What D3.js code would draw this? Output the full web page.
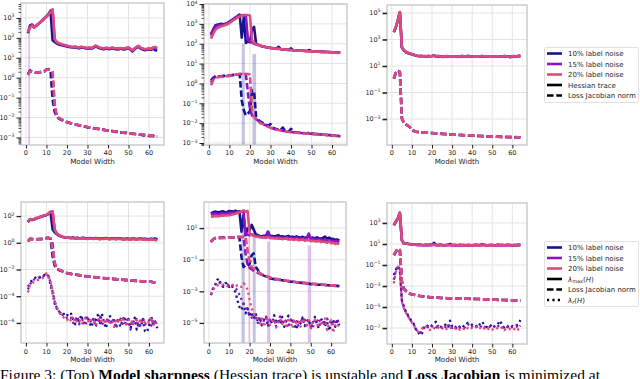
<!DOCTYPE html>
<html><head><meta charset="utf-8">
<script src="https://cdn.jsdelivr.net/npm/d3@7"></script>
<style>body{margin:0;background:#fff}svg{display:block}</style>
</head><body><svg id="c" width="640" height="379"></svg>
<script>
// ---------- DATA ----------
const widths = [1,2,3,4,5,6,7,8,9,10,11,12,13,14,15,16,17,18,19,20,21,22,23,24,25,26,27,28,29,30,31,32,33,34,35,36,37,38,39,40,41,42,43,44,45,46,47,48,49,50,51,52,53,54,55,56,57,58,59,60,61,62,63,64];
const xTicks = [0,10,20,30,40,50,60];
const noiseLabels = ['10% label noise','15% label noise','20% label noise'];
const topStyleLabels = ['Hessian trace','Loss Jacobian norm'];
const xLabel = 'Model Width';

// top-left
const tlTicks = [1e-3,1e-2,1e-1,1,10,100,1000];
const tlTrace10 = [170,420,470,340,410,500,610,760,950,1200,1550,2300,75,62,52,47,44,41,39,37,35,34,33,34,31,30,33,32,30,29,30,29,32,37,33,30,28,27,29,28,27,30,28,27,26,29,27,26,29,30,25,21,27,33,36,28,26,24,25,27,25,29,24,23];
const tlTrace15 = [180,380,440,330,400,490,600,740,930,1180,1500,2100,2600,80,58,51,47,44,41,39,37,35,34,36,33,31,35,33,31,30,32,30,34,39,35,31,30,29,31,30,29,31,30,29,28,30,29,28,31,32,27,23,29,35,38,30,28,26,27,29,27,31,30,29];
const tlTrace20 = [190,330,420,320,400,490,600,740,920,1150,1450,1900,2700,90,62,55,50,46,44,41,38,37,35,37,34,33,36,34,33,32,33,31,35,41,36,33,31,30,32,31,30,33,31,30,29,31,30,29,32,33,28,24,30,36,40,31,29,27,28,30,28,33,35,34];
const tlJac10 = [1.5,2.3,2.0,1.9,1.8,1.8,1.9,2.0,2.1,2.6,2.7,2.3,0.08,0.02,0.011,0.0088,0.0078,0.007,0.0064,0.0058,0.0054,0.005,0.0047,0.0045,0.0042,0.004,0.0038,0.0036,0.0034,0.0032,0.0031,0.003,0.0029,0.0028,0.0027,0.0026,0.0025,0.0024,0.0023,0.0022,0.0021,0.0021,0.002,0.0019,0.0019,0.0018,0.0018,0.0017,0.0017,0.0016,0.0016,0.0015,0.0015,0.0015,0.0014,0.0014,0.0013,0.0013,0.0013,0.0012,0.0012,0.0012,0.0011,0.0011];
const tlJac15 = [1.4,2.2,2.0,1.9,1.8,1.85,1.9,2.0,2.1,2.5,2.6,2.4,1.4,0.035,0.012,0.0092,0.0082,0.0073,0.0066,0.0059,0.0055,0.0051,0.0048,0.0045,0.0043,0.0041,0.0039,0.0037,0.0035,0.0033,0.0032,0.003,0.0029,0.0028,0.0027,0.0026,0.0025,0.0024,0.0023,0.0022,0.0022,0.0021,0.002,0.002,0.0019,0.0018,0.0018,0.0017,0.0017,0.0016,0.0016,0.0016,0.0015,0.0015,0.0014,0.0014,0.0013,0.0013,0.0013,0.0012,0.0012,0.0012,0.0011,0.0011];
const tlJac20 = [1.35,2.1,2.0,1.9,1.85,1.85,1.9,2.0,2.1,2.5,2.6,2.5,2.0,0.05,0.013,0.0095,0.0085,0.0075,0.0068,0.006,0.0056,0.0052,0.0049,0.0046,0.0044,0.0041,0.0039,0.0037,0.0035,0.0033,0.0032,0.0031,0.0029,0.0028,0.0027,0.0026,0.0025,0.0024,0.0023,0.0022,0.0022,0.0021,0.002,0.002,0.0019,0.0019,0.0018,0.0018,0.0017,0.0017,0.0016,0.0016,0.0015,0.0015,0.0014,0.0014,0.0014,0.0013,0.0013,0.0013,0.0012,0.0012,0.0012,0.0011];
const tlBands = [{x0:1.1,x1:2.0,top:180,k:1}];

// top-middle
const tmTicks = [1e-3,1e-2,1e-1,1,10,100,1000,1e4];
const tmTrace10 = [300,500,800,900,950,1000,950,1000,1100,1300,1500,1800,2100,2500,2900,200,2200,110,130,120,500,700,100,88,80,75,71,67,64,62,60,58,56,70,54,52,51,50,49,58,47,46,45,45,44,44,43,43,48,42,41,41,40,40,39,39,38,38,37,37,37,36,36,35];
const tmTrace15 = [250,420,650,800,850,900,900,950,1050,1250,1450,1700,2000,2300,2600,2700,2800,2700,160,130,115,100,92,86,80,75,71,67,64,61,59,57,56,58,54,52,51,50,49,48,47,46,46,45,44,44,43,43,42,42,41,41,40,40,39,39,38,38,38,37,37,36,36,36];
const tmTrace20 = [180,300,480,600,680,750,800,870,950,1100,1300,1550,1800,2100,2400,2600,2700,2800,2800,2600,150,110,95,86,80,75,71,67,64,61,59,57,55,56,53,52,51,50,49,48,47,46,45,45,44,43,43,42,42,41,41,40,40,39,39,38,38,38,37,37,36,36,36,35];
const tmJac10 = [1.4,1.9,2.2,2.3,2.3,2.3,2.4,2.4,2.5,2.5,2.6,2.7,2.8,2.8,2.8,0.14,0.045,0.025,0.03,0.04,0.45,0.4,0.02,0.015,0.012,0.0105,0.0092,0.0082,0.0074,0.009,0.0058,0.0054,0.005,0.0047,0.0045,0.006,0.0041,0.0039,0.0038,0.0052,0.0036,0.0035,0.0034,0.0033,0.0033,0.0032,0.0031,0.003,0.0036,0.003,0.0029,0.0028,0.0028,0.0027,0.0027,0.0026,0.0026,0.0025,0.0025,0.0024,0.0024,0.0023,0.0022,0.0022];
const tmJac15 = [1.1,1.7,2.0,2.2,2.2,2.3,2.3,2.4,2.4,2.5,2.6,2.7,2.8,2.9,3.0,3.0,3.0,2.8,0.35,0.05,0.025,0.018,0.016,0.013,0.0105,0.0095,0.0085,0.0076,0.0068,0.006,0.0055,0.0051,0.0048,0.0046,0.0044,0.0042,0.004,0.0038,0.0037,0.0036,0.0035,0.0034,0.0033,0.0033,0.0032,0.0031,0.0031,0.003,0.003,0.0029,0.0029,0.0028,0.0028,0.0027,0.0027,0.0026,0.0026,0.0025,0.0025,0.0024,0.0024,0.0023,0.0023,0.0022];
const tmJac20 = [0.8,1.4,1.7,2.0,2.1,2.2,2.2,2.3,2.3,2.4,2.5,2.6,2.8,2.9,3.0,3.1,3.1,3.0,3.0,2.8,0.045,0.021,0.016,0.013,0.01,0.0092,0.0082,0.0073,0.0065,0.0058,0.0054,0.005,0.0047,0.0045,0.0043,0.0041,0.0039,0.0037,0.0036,0.0035,0.0034,0.0033,0.0033,0.0032,0.0032,0.0031,0.003,0.003,0.0029,0.0029,0.0028,0.0028,0.0027,0.0027,0.0026,0.0026,0.0025,0.0025,0.0024,0.0024,0.0023,0.0023,0.0022,0.0021];
const tmBands = [{x0:16,x1:17.5,top:100,k:0},{x0:21.2,x1:23,top:30,k:0}];

// top-right
const trTicks = [1e-3,1e-1,10,1e3,1e5];
const trTrace10 = [3500,8000,28000,110000,250,150,110,95,85,76,68,61,57,55,56,54,53,55,54,56,62,53,55,52,49,51,54,53,50,52,54,51,49,53,55,52,54,56,53,51,54,52,50,53,55,51,54,52,50,53,51,54,52,49,53,55,52,51,46,53,54,52,56,58];
const trTrace15 = [3600,8400,29000,114000,260,155,112,98,88,78,70,62,58,56,57,55,54,55,55,57,60,54,56,53,50,52,55,54,51,53,55,52,50,54,56,53,55,57,54,52,55,53,51,54,56,52,55,53,51,54,52,55,53,50,54,56,53,52,49,54,55,53,56,55];
const trTrace20 = [3700,8700,30000,117000,270,160,115,100,90,80,71,63,58,56,57,55,54,56,55,57,60,54,56,53,50,52,55,54,51,53,55,52,50,54,56,53,55,57,54,52,55,53,51,54,56,52,55,53,51,54,52,55,53,50,54,56,53,52,50,54,55,53,57,55];
const trJac10 = [1.1,3.0,4.4,3.6,0.0011,5e-4,3.9e-4,3.1e-4,2.4e-4,1.5e-4,1.25e-4,1.1e-4,1.04e-4,1e-4,9.7e-5,9.5e-5,9.3e-5,9.1e-5,8.9e-5,8.7e-5,8.4e-5,8.2e-5,8e-5,7.8e-5,7.6e-5,7.4e-5,7.2e-5,7e-5,6.8e-5,6.6e-5,6.5e-5,6.4e-5,6.3e-5,6.2e-5,6.1e-5,6e-5,5.9e-5,5.8e-5,5.7e-5,5.6e-5,5.5e-5,5.4e-5,5.3e-5,5.2e-5,5.1e-5,5e-5,4.9e-5,4.8e-5,4.8e-5,4.7e-5,4.7e-5,4.6e-5,4.6e-5,4.5e-5,4.5e-5,4.4e-5,4.4e-5,4.3e-5,4.3e-5,4.3e-5,4.2e-5,4.2e-5,4.2e-5,4.1e-5];
const trJac15 = [1.15,3.05,4.45,3.65,0.00115,5.1e-4,3.95e-4,3.15e-4,2.45e-4,1.5e-4,1.28e-4,1.1e-4,1.05e-4,1e-4,9.8e-5,9.5e-5,9.3e-5,9.1e-5,8.9e-5,8.7e-5,8.5e-5,8.2e-5,8e-5,7.8e-5,7.6e-5,7.4e-5,7.2e-5,7e-5,6.9e-5,6.7e-5,6.6e-5,6.5e-5,6.3e-5,6.2e-5,6.1e-5,6e-5,5.9e-5,5.8e-5,5.7e-5,5.6e-5,5.5e-5,5.4e-5,5.3e-5,5.3e-5,5.2e-5,5.1e-5,5e-5,4.9e-5,4.8e-5,4.7e-5,4.7e-5,4.6e-5,4.6e-5,4.5e-5,4.5e-5,4.4e-5,4.4e-5,4.4e-5,4.3e-5,4.3e-5,4.3e-5,4.2e-5,4.2e-5,4.2e-5];
const trJac20 = [1.2,3.1,4.5,3.7,0.0012,5.2e-4,4e-4,3.2e-4,2.5e-4,1.5e-4,1.3e-4,1.1e-4,1.05e-4,1e-4,9.8e-5,9.6e-5,9.4e-5,9.2e-5,9e-5,8.8e-5,8.5e-5,8.3e-5,8.1e-5,7.9e-5,7.7e-5,7.5e-5,7.3e-5,7.1e-5,6.9e-5,6.7e-5,6.6e-5,6.5e-5,6.4e-5,6.3e-5,6.2e-5,6.1e-5,6e-5,5.9e-5,5.8e-5,5.7e-5,5.6e-5,5.5e-5,5.4e-5,5.3e-5,5.2e-5,5.1e-5,5e-5,4.9e-5,4.8e-5,4.8e-5,4.7e-5,4.7e-5,4.6e-5,4.6e-5,4.5e-5,4.5e-5,4.4e-5,4.4e-5,4.4e-5,4.3e-5,4.3e-5,4.3e-5,4.2e-5,4.2e-5];

// bottom-left
const blTicks = [1e-6,1e-4,1e-2,1,100];
const blMax10 = [35,55,50,56,66,74,84,95,106,120,145,200,10,6,4.5,3.5,3.0,2.7,2.5,2.4,2.4,2.3,2.5,2.2,2.4,2.1,2.3,2.4,2.2,2.1,2.3,2.2,2.1,2.3,2.2,2.0,2.2,2.1,2.3,2.1,2.0,2.2,2.1,2.0,2.2,2.1,2.0,1.9,2.1,2.0,1.9,2.1,2.0,1.9,2.0,2.1,1.9,2.0,1.9,1.8,2.0,1.9,2.1,1.7];
const blMax15 = [38,58,52,58,68,76,86,97,108,122,148,210,220,9.8,5.0,3.8,3.1,2.8,2.6,2.5,2.35,2.25,2.4,2.15,2.3,2.05,2.2,2.3,2.1,2.0,2.2,2.1,2.0,2.2,2.1,1.9,2.1,2.0,2.2,2.0,1.9,2.1,2.0,1.9,2.1,2.0,1.9,1.8,2.0,1.9,1.8,2.0,1.9,1.8,1.9,2.0,1.8,1.9,1.8,1.7,1.9,1.8,1.8,1.6];
const blMax20 = [40,60,54,60,71,79,89,100,112,126,150,190,225,9.5,5.4,4.0,3.2,2.8,2.6,2.5,2.3,2.2,2.3,2.1,2.2,2.0,2.1,2.2,2.0,1.9,2.1,2.0,1.9,2.1,2.0,1.8,2.0,1.9,2.1,1.9,1.8,2.0,1.9,1.8,2.0,1.9,1.8,1.7,1.9,1.8,1.7,1.9,1.8,1.7,1.8,1.9,1.7,1.8,1.7,1.6,1.8,1.7,1.6,1.5];
const blJac10 = [1.3,2.0,1.9,1.85,1.85,1.9,1.9,1.95,2.0,2.3,2.4,1.8,0.1,0.02,0.011,0.0092,0.008,0.0072,0.0062,0.0053,0.0049,0.0046,0.0043,0.0041,0.0039,0.0037,0.0035,0.0033,0.0031,0.003,0.0029,0.0028,0.0027,0.0026,0.0025,0.0024,0.0023,0.0022,0.0022,0.0021,0.002,0.002,0.0019,0.0018,0.0018,0.0017,0.0017,0.0016,0.0016,0.0016,0.0015,0.0015,0.0014,0.0014,0.0014,0.0013,0.0013,0.0012,0.0012,0.0012,0.0012,0.0011,0.0011,0.0011];
const blJac15 = [1.28,1.95,1.88,1.82,1.82,1.88,1.88,1.92,1.98,2.25,2.35,2.1,0.8,0.028,0.012,0.0096,0.0083,0.0074,0.0064,0.0054,0.005,0.0047,0.0044,0.0042,0.004,0.0038,0.0036,0.0034,0.0032,0.003,0.0029,0.0028,0.0027,0.0026,0.0025,0.0024,0.0023,0.0023,0.0022,0.0021,0.0021,0.002,0.0019,0.0019,0.0018,0.0018,0.0017,0.0017,0.0016,0.0016,0.0015,0.0015,0.0015,0.0014,0.0014,0.0013,0.0013,0.0013,0.0012,0.0012,0.0012,0.0011,0.0011,0.0011];
const blJac20 = [1.26,1.9,1.85,1.8,1.8,1.85,1.85,1.9,1.95,2.2,2.3,2.2,0.3,0.035,0.013,0.01,0.0085,0.0075,0.0065,0.0055,0.005,0.0047,0.0044,0.0042,0.004,0.0038,0.0036,0.0034,0.0032,0.003,0.0029,0.0028,0.0027,0.0026,0.0025,0.0024,0.0023,0.0023,0.0022,0.0021,0.0021,0.002,0.0019,0.0019,0.0018,0.0018,0.0017,0.0017,0.0016,0.0016,0.0015,0.0015,0.0015,0.0014,0.0014,0.0013,0.0013,0.0013,0.0012,0.0012,0.0012,0.0011,0.0011,0.0011];
const blRank10 = [5.2e-4,9.3e-4,1.66e-3,2.2e-3,2.6e-3,3.3e-3,2.6e-3,3e-3,4e-3,3.3e-3,3e-3,6.9e-4,1.66e-4,2.9e-5,1.2e-5,9.1e-6,5e-6,6.3e-6,3.2e-6,4e-6,3.2e-6,5e-6,1.6e-6,8e-7,2.5e-6,1.3e-6,4e-6,6.3e-7,2e-6,3.2e-6,1e-6,5e-7,2.5e-6,1.6e-6,4e-6,8e-7,5e-6,1.3e-6,4e-7,2e-6,3.2e-6,1e-6,1.6e-6,6.3e-7,2.5e-6,5e-7,1.3e-6,3.2e-6,8e-7,2e-6,4e-7,1.6e-6,2.5e-6,3.2e-7,1e-6,5e-7,2e-6,2.5e-7,2e-7,6.3e-7,3.2e-6,8e-7,1.3e-6,4e-7];
const blRank15 = [3.2e-4,7.9e-4,1.26e-3,1.8e-3,2e-3,2.5e-3,2.2e-3,2.8e-3,3.5e-3,4.5e-3,3.2e-3,1e-3,2.2e-4,4e-5,1.4e-5,7.9e-6,4.5e-6,4e-6,2.5e-6,2.5e-6,2e-6,2.5e-6,1e-6,1.6e-6,3.2e-6,8e-7,1.3e-6,2e-6,6.3e-7,2.5e-6,1.6e-6,1e-6,2e-6,5e-7,1.3e-6,3.2e-6,6.3e-7,1.6e-6,1e-6,2.5e-6,8e-7,2e-6,1.3e-6,4e-7,1.6e-6,2.5e-6,1e-6,6.3e-7,2e-6,1.3e-6,3.2e-7,1.6e-6,1e-6,2e-6,5e-7,1.3e-6,2.5e-6,8e-7,1e-6,1.6e-6,6.3e-7,2e-6,1e-6,1.3e-6];
const blRank20 = [1.9e-4,6.9e-4,9.3e-4,1.26e-3,1.5e-3,1.66e-3,1.86e-3,2.2e-3,3.3e-3,5.2e-3,3.3e-3,1.26e-3,2.95e-4,5.1e-5,1.6e-5,6.9e-6,3.9e-6,2.9e-6,2.2e-6,1.6e-6,2.5e-6,1.3e-6,3.2e-6,1e-6,1.6e-6,2e-6,8e-7,1.3e-6,2.5e-6,1.6e-6,1e-6,2e-6,1.3e-6,6.3e-7,1.6e-6,2.5e-6,1e-6,1.3e-6,2e-6,8e-7,1.6e-6,1.3e-6,5e-7,2e-6,1.6e-6,1e-6,2.5e-6,1.3e-6,8e-7,1.6e-6,2e-6,6.3e-7,1.3e-6,1.6e-6,1e-6,2e-6,8e-7,1.3e-6,1.6e-6,1e-6,2.5e-6,6.3e-7,1.3e-6,8e-7];

// bottom-middle
const bmTicks = [1e-5,1e-3,1e-1,10];
const bmMax10 = [85,100,110,105,100,110,115,100,105,120,115,110,125,105,115,6,70,3.6,9.5,7.5,16,8,4,3.6,3.2,3.0,3.3,3.1,6.0,3.0,3.2,2.9,3.1,3.6,2.8,3.0,2.7,2.9,3.2,2.7,2.8,2.6,3.0,2.6,2.5,2.8,2.4,2.6,2.9,2.3,2.5,2.2,2.6,2.3,2.1,2.4,2.9,2.2,2.5,2.0,2.1,1.8,1.9,1.6];
const bmMax15 = [70,80,85,80,78,85,88,82,86,92,95,90,100,95,105,110,115,4.2,3.8,3.5,4,3.4,3.1,2.9,2.8,2.7,2.8,2.6,5.5,2.6,2.7,2.5,2.6,2.8,2.5,2.4,2.3,2.5,2.6,2.3,2.4,2.2,2.5,2.2,2.1,2.3,2.1,2.2,4.5,2.0,2.1,1.9,2.0,1.8,1.9,1.7,1.8,1.6,1.7,1.5,1.6,1.4,1.5,1.3];
const bmMax20 = [52,55,57,58,57,60,60,62,64,66,70,75,80,90,100,115,130,110,120,4.5,3.6,3.3,3.0,2.8,2.6,2.5,2.6,2.4,2.7,2.3,2.4,2.2,2.3,2.1,2.2,2.0,2.1,2.2,1.9,2.0,1.9,1.8,2.0,1.7,1.8,1.9,1.6,1.7,1.8,1.5,1.6,1.5,1.4,1.6,1.3,1.4,1.3,1.2,1.4,1.1,1.2,1.0,1.1,0.95];
const bmJac10 = [1.4,1.95,2.3,2.4,2.4,2.4,2.5,2.4,2.5,2.5,2.6,2.6,2.6,2.7,2.7,0.145,0.035,0.045,0.04,0.055,0.19,0.25,0.035,0.023,0.013,0.011,0.0098,0.0088,0.0078,0.0065,0.0062,0.0059,0.0056,0.0054,0.0052,0.005,0.0048,0.0046,0.0044,0.0041,0.004,0.0038,0.0037,0.0036,0.0035,0.0034,0.0033,0.0032,0.0031,0.0028,0.0028,0.0027,0.0027,0.0026,0.0026,0.0025,0.0025,0.0024,0.0024,0.0023,0.0023,0.0022,0.0022,0.0021];
const bmJac15 = [1.3,1.9,2.3,2.4,2.4,2.45,2.5,2.45,2.5,2.55,2.6,2.6,2.65,2.7,2.7,2.75,2.7,0.25,0.045,0.03,0.025,0.02,0.017,0.015,0.013,0.0115,0.0102,0.0091,0.0082,0.0073,0.0068,0.0063,0.0059,0.0056,0.0053,0.005,0.0048,0.0046,0.0044,0.0042,0.004,0.0039,0.0037,0.0036,0.0035,0.0034,0.0033,0.0032,0.0031,0.003,0.0029,0.0029,0.0028,0.0027,0.0027,0.0026,0.0025,0.0025,0.0024,0.0024,0.0023,0.0023,0.0022,0.0022];
const bmJac20 = [1.35,1.9,2.3,2.35,2.4,2.4,2.45,2.45,2.5,2.5,2.55,2.6,2.6,2.65,2.7,2.75,2.8,2.8,0.4,0.074,0.035,0.027,0.022,0.018,0.014,0.012,0.0105,0.0093,0.0083,0.0075,0.007,0.0065,0.0061,0.0058,0.0055,0.0052,0.005,0.0047,0.0045,0.0043,0.0041,0.004,0.0038,0.0037,0.0036,0.0035,0.0034,0.0033,0.0032,0.0031,0.003,0.0029,0.0029,0.0028,0.0027,0.0027,0.0026,0.0025,0.0025,0.0024,0.0024,0.0023,0.0023,0.0022];
const bmRank10 = [5.7e-4,1.5e-3,2.5e-3,5.1e-3,6.5e-3,2.5e-3,1.9e-3,3.2e-3,3.5e-3,1.9e-3,2.5e-3,1.5e-3,9.3e-4,2.8e-4,1.05e-4,6.5e-5,1.7e-4,4e-5,8.3e-5,2.4e-5,5e-5,1.9e-5,4e-5,1.2e-5,2.4e-5,7.2e-6,1.5e-5,2.7e-5,5.7e-6,1.9e-5,9.3e-6,3.1e-5,1.2e-5,1.65e-5,8.3e-6,2.4e-5,5.7e-6,1.35e-5,2.9e-5,1e-5,1.9e-5,7.2e-6,3.9e-6,1.5e-5,9.3e-6,2.2e-5,6.3e-6,1.2e-5,1.7e-5,5.1e-6,1e-5,2.4e-5,8.3e-6,4.5e-6,1.5e-5,1.9e-5,6.3e-6,1.2e-5,3.2e-6,9.3e-6,1.65e-5,5.7e-6,1.35e-5,7.2e-6];
const bmRank15 = [6e-4,1.4e-3,2.2e-3,3.5e-3,4e-3,2.2e-3,2.3e-3,2.8e-3,2.8e-3,2.2e-3,2.6e-3,2e-3,1.6e-3,1.2e-3,6e-4,3e-4,1.5e-4,9e-5,5e-5,3.5e-5,2.2e-5,1.5e-5,3e-5,1e-5,1.8e-5,7e-6,1.4e-5,2.5e-5,9e-6,1.6e-5,1.1e-5,2e-5,6e-6,1.3e-5,2.6e-5,8e-6,1.7e-5,1.1e-5,5e-6,1.5e-5,2.1e-5,9e-6,1.3e-5,6e-6,1.8e-5,1.1e-5,2.3e-5,7e-6,1.4e-5,1e-5,4.5e-6,1.6e-5,1.2e-5,2e-5,8e-6,1.3e-5,6.5e-6,1.9e-5,1e-5,1.4e-5,7e-6,1.2e-5,1.7e-5,9e-6];
const bmRank20 = [6.6e-4,1.3e-3,1.9e-3,2.5e-3,2.1e-3,2.5e-3,2.7e-3,2.5e-3,2.1e-3,2.5e-3,2.7e-3,2.5e-3,1.9e-3,2.5e-3,2.1e-3,1.9e-3,3.2e-3,2.5e-3,1.2e-3,2.8e-4,8.3e-5,4e-5,2.4e-5,1.65e-5,9.3e-6,1.9e-5,5.7e-6,1.35e-5,2.4e-5,7.2e-6,1.2e-5,1.65e-5,5.1e-6,1e-5,1.9e-5,8.3e-6,1.5e-5,6.3e-6,2.2e-5,1.2e-5,4.5e-6,1.65e-5,9.3e-6,1.35e-5,5.7e-6,1.9e-5,1e-5,7.2e-6,1.5e-5,3.9e-6,1.2e-5,1.7e-5,8.3e-6,5.7e-6,1.35e-5,1e-5,1.9e-5,3.5e-6,9.3e-6,1.5e-5,2.4e-6,7.2e-6,5.1e-6,1e-5];
const bmBands = [{x0:16,x1:17.6,top:7.5,k:0},{x0:19.3,x1:20.3,top:4.6,k:2},{x0:21.5,x1:23,top:4.6,k:0},{x0:28.5,x1:30,top:1.4,k:1},{x0:48.5,x1:50,top:0.8,k:1}];

// bottom-right
const brTicks = [1e-7,1e-5,1e-3,1e-1,10,1000];
const brMax10 = [600,1300,2600,9000,22,11,11.5,10.5,9.8,9.3,8.8,8.5,8.2,8.6,8.0,7.8,8.3,7.9,8.5,8.2,13,8.0,7.7,8.4,8.1,7.5,7.9,8.3,10,7.6,8.1,7.8,7.5,8.2,7.7,7.9,7.4,8.1,7.8,7.6,8.0,8.3,7.7,7.9,9.0,8.2,7.8,7.6,8.1,7.9,7.5,7.8,8.4,7.7,8.0,7.6,7.9,8.2,7.7,7.5,8.0,7.8,8.2,7.9];
const brMax15 = [620,1320,2680,9200,23,11.2,11.2,10.2,9.6,9.1,8.6,8.3,8.1,8.4,7.9,7.6,8.1,7.7,8.3,8.0,9.5,7.8,7.5,8.2,7.9,7.3,7.7,8.1,8.6,7.4,7.9,7.6,7.3,8.0,7.5,7.7,7.2,7.9,7.6,7.4,7.8,8.1,7.5,7.7,8.3,8.0,7.6,7.4,7.9,7.7,7.3,7.6,8.2,7.5,7.8,7.4,7.7,8.0,7.5,7.3,7.8,7.6,8.0,7.7];
const brMax20 = [650,1350,2750,9500,24,11.5,11,10,9.5,9.0,8.5,8.2,8.0,8.3,7.8,7.5,8.0,7.6,8.2,7.9,8.5,7.7,7.4,8.1,7.8,7.2,7.6,8.0,7.5,7.3,7.8,7.5,7.2,7.9,7.4,7.6,7.1,7.8,7.5,7.3,7.7,8.0,7.4,7.6,7.2,7.9,7.5,7.3,7.8,7.6,7.2,7.5,8.1,7.4,7.7,7.3,7.6,7.9,7.4,7.2,7.7,7.5,7.9,7.6];
const brJac10 = [0.85,1.8,3.5,2.6,2.4e-3,5.6e-4,3.4e-4,2.5e-4,1.85e-4,1.55e-4,1.45e-4,1.3e-4,1.2e-4,1.1e-4,1.05e-4,1e-4,9.5e-5,9e-5,8.5e-5,8.2e-5,8e-5,7.8e-5,7.6e-5,7.4e-5,7.2e-5,7.1e-5,6.9e-5,6.8e-5,6.6e-5,6.5e-5,6.4e-5,6.4e-5,6.3e-5,6.3e-5,6.2e-5,6.2e-5,6.1e-5,6.1e-5,6e-5,6e-5,5.9e-5,5.8e-5,5.7e-5,5.6e-5,5.5e-5,5.4e-5,5.3e-5,5.2e-5,5.1e-5,5e-5,5e-5,4.9e-5,4.8e-5,4.7e-5,4.7e-5,4.6e-5,4.5e-5,4.5e-5,4.4e-5,4.4e-5,4.3e-5,4.2e-5,4.2e-5,4.1e-5];
const brJac15 = [0.88,1.82,3.55,2.65,2.45e-3,5.7e-4,3.45e-4,2.55e-4,1.9e-4,1.58e-4,1.48e-4,1.32e-4,1.22e-4,1.12e-4,1.06e-4,1.01e-4,9.6e-5,9.1e-5,8.6e-5,8.3e-5,8e-5,7.8e-5,7.6e-5,7.4e-5,7.3e-5,7.1e-5,7e-5,6.8e-5,6.7e-5,6.5e-5,6.5e-5,6.4e-5,6.3e-5,6.3e-5,6.2e-5,6.2e-5,6.1e-5,6.1e-5,6e-5,6e-5,5.9e-5,5.8e-5,5.7e-5,5.6e-5,5.5e-5,5.4e-5,5.3e-5,5.2e-5,5.1e-5,5.1e-5,5e-5,4.9e-5,4.8e-5,4.8e-5,4.7e-5,4.6e-5,4.5e-5,4.5e-5,4.4e-5,4.4e-5,4.3e-5,4.2e-5,4.2e-5,4.1e-5];
const brJac20 = [0.9,1.85,3.6,2.7,2.5e-3,5.8e-4,3.5e-4,2.6e-4,1.9e-4,1.6e-4,1.5e-4,1.35e-4,1.25e-4,1.15e-4,1.07e-4,1.02e-4,9.7e-5,9.2e-5,8.7e-5,8.3e-5,8.1e-5,7.9e-5,7.7e-5,7.5e-5,7.3e-5,7.2e-5,7e-5,6.9e-5,6.7e-5,6.6e-5,6.5e-5,6.4e-5,6.4e-5,6.3e-5,6.3e-5,6.2e-5,6.2e-5,6.1e-5,6.1e-5,6e-5,5.9e-5,5.8e-5,5.7e-5,5.6e-5,5.5e-5,5.4e-5,5.3e-5,5.2e-5,5.2e-5,5.1e-5,5e-5,4.9e-5,4.8e-5,4.8e-5,4.7e-5,4.6e-5,4.6e-5,4.5e-5,4.4e-5,4.4e-5,4.3e-5,4.2e-5,4.2e-5,4.1e-5];
const brRank10 = [1.1e-2,3.3e-2,8e-2,3.3e-2,4.7e-5,1.07e-5,3.6e-6,1.7e-6,8.3e-7,4e-7,2.4e-7,7.5e-8,4.5e-8,2.1e-8,3.1e-8,1.35e-7,1.95e-7,1.55e-7,1.15e-7,1.8e-7,2.8e-7,4e-7,1.35e-7,1.8e-7,1e-7,1.55e-7,2.4e-7,1.35e-7,5e-7,1.55e-7,9.3e-8,1.35e-7,1.95e-7,1.15e-7,1.8e-7,1.35e-7,2.4e-7,3.2e-7,2.8e-7,1.95e-7,1.35e-7,1.55e-7,1.15e-7,2.8e-7,4e-7,1.95e-7,1.35e-7,1e-7,1.55e-7,2.4e-7,1.35e-7,1.8e-7,2.8e-7,5e-7,1.55e-7,1.15e-7,1.8e-7,1.35e-7,1e-7,1.55e-7,1.35e-7,1.8e-7,2.4e-7,5.8e-7];
const brRank15 = [4e-3,2.8e-2,7.5e-2,4e-2,4e-5,9e-6,3.2e-6,1.5e-6,7.5e-7,3.5e-7,2e-7,8e-8,4e-8,3.5e-8,6e-8,1e-7,1.6e-7,1.2e-7,9e-8,1.4e-7,1.8e-7,1.2e-7,1e-7,1.4e-7,1.1e-7,9e-8,1.5e-7,1.2e-7,2.2e-7,1e-7,1.3e-7,9e-8,1.6e-7,1.1e-7,1.3e-7,1e-7,1.7e-7,2.4e-7,1.2e-7,1.4e-7,1e-7,1.3e-7,1.5e-7,1.1e-7,2e-7,1.4e-7,1e-7,1.2e-7,1.3e-7,1.1e-7,1.5e-7,1e-7,1.6e-7,1.8e-7,1.2e-7,1e-7,1.4e-7,1.1e-7,9e-8,1.3e-7,1.2e-7,1.5e-7,1e-7,1.7e-7];
const brRank20 = [1.8e-3,2.3e-2,6.9e-2,4.8e-2,3.2e-5,7.5e-6,2.9e-6,1.4e-6,6.8e-7,3.2e-7,1.55e-7,9.3e-8,4.5e-8,6.5e-8,9.3e-8,7.5e-8,1.35e-7,9.3e-8,6.5e-8,1.15e-7,1e-7,8e-8,1.2e-7,7e-8,9e-8,1.3e-7,8.5e-8,6.5e-8,1.1e-7,9e-8,7.5e-8,1.2e-7,9.5e-8,6.8e-8,1.05e-7,8e-8,1.3e-7,9e-8,7e-8,1.1e-7,8.5e-8,1.2e-7,7.5e-8,1e-7,6.5e-8,9e-8,1.25e-7,8e-8,1.05e-7,7e-8,9.5e-8,1.15e-7,7.5e-8,8.5e-8,1.2e-7,6.5e-8,9e-8,1.1e-7,7.5e-8,1e-7,8e-8,1.15e-7,7e-8,9e-8];

// ---------- DRAWING ----------
const svg = d3.select('#c');
const COL = ['#14148c','#8c14c8','#dc4a7e'];
const FONT = 'DejaVu Sans, sans-serif';
const STY = {
  solid:{w:2.6,dash:null,cap:'butt'},
  dash:{w:2.6,dash:'6.5,2.8',cap:'butt'},
  dot:{w:2.3,dash:'2.2,3.2',cap:'butt'}
};
const xDom = [-2.4, 67.3];

function S(d,k,s){return {d:d,k:k,s:s};}
const panels = [
 {l:21,r:164,t:3,b:145,lo:-3.38,hi:3.75,ticks:tlTicks,minor:true,tw:1,
  series:[S(tlTrace10,0,'solid'),S(tlJac10,0,'dash'),S(tlTrace15,1,'solid'),S(tlJac15,1,'dash'),S(tlTrace20,2,'solid'),S(tlJac20,2,'dash')],bands:tlBands},
 {l:204,r:347,t:4,b:145,lo:-3.1,hi:4.0,ticks:tmTicks,minor:true,tw:1,
  series:[S(tmTrace10,0,'solid'),S(tmJac10,0,'dash'),S(tmTrace15,1,'solid'),S(tmJac15,1,'dash'),S(tmTrace20,2,'solid'),S(tmJac20,2,'dash')],bands:tmBands},
 {l:387,r:527,t:5,b:145,lo:-4.96,hi:5.6,ticks:trTicks,minor:false,tw:1.6,
  series:[S(trTrace10,0,'solid'),S(trJac10,0,'dash'),S(trTrace15,1,'solid'),S(trJac15,1,'dash'),S(trTrace20,2,'solid'),S(trJac20,2,'dash')],bands:[]},
 {l:21,r:164,t:202,b:343,lo:-7.5,hi:3.05,ticks:blTicks,minor:false,tw:1.3,
  series:[S(blMax10,0,'solid'),S(blJac10,0,'dash'),S(blRank10,0,'dot'),S(blMax15,1,'solid'),S(blJac15,1,'dash'),S(blRank15,1,'dot'),S(blMax20,2,'solid'),S(blJac20,2,'dash'),S(blRank20,2,'dot')],bands:[]},
 {l:204,r:346,t:202,b:343,lo:-6.27,hi:2.65,ticks:bmTicks,minor:false,tw:1.3,
  series:[S(bmMax10,0,'solid'),S(bmJac10,0,'dash'),S(bmRank10,0,'dot'),S(bmMax15,1,'solid'),S(bmJac15,1,'dash'),S(bmRank15,1,'dot'),S(bmMax20,2,'solid'),S(bmJac20,2,'dash'),S(bmRank20,2,'dot')],bands:bmBands},
 {l:387,r:527,t:203,b:344,lo:-8.52,hi:4.9,ticks:brTicks,minor:false,tw:1.6,
  series:[S(brMax10,0,'solid'),S(brJac10,0,'dash'),S(brRank10,0,'dot'),S(brMax15,1,'solid'),S(brJac15,1,'dash'),S(brRank15,1,'dot'),S(brMax20,2,'solid'),S(brJac20,2,'dash'),S(brRank20,2,'dot')],bands:[]}
];

panels.forEach((p,pi)=>{
  const x = d3.scaleLinear().domain(xDom).range([p.l,p.r]);
  const y = d3.scaleLog().domain([Math.pow(10,p.lo),Math.pow(10,p.hi)]).range([p.b,p.t]);
  const g = svg.append('g');
  const cid = 'clip'+pi;
  svg.append('clipPath').attr('id',cid).append('rect').attr('x',p.l).attr('y',p.t).attr('width',p.r-p.l).attr('height',p.b-p.t);
  g.append('g').selectAll('line').data(p.ticks).join('line')
    .attr('x1',p.l).attr('x2',p.r).attr('y1',d=>y(d)).attr('y2',d=>y(d))
    .attr('stroke','#e3e3e3').attr('stroke-width',1);
  g.append('g').selectAll('line').data(xTicks).join('line')
    .attr('x1',d=>x(d)).attr('x2',d=>x(d)).attr('y1',p.t).attr('y2',p.b)
    .attr('stroke','#e3e3e3').attr('stroke-width',1);
  const pg = g.append('g').attr('clip-path','url(#'+cid+')');
  pg.selectAll('rect.band').data(p.bands).join('rect').attr('class','band')
    .attr('x',d=>x(d.x0)).attr('width',d=>x(d.x1)-x(d.x0))
    .attr('y',d=>y(d.top)).attr('height',d=>p.b-y(d.top))
    .attr('fill',d=>COL[d.k]).attr('opacity',0.25);
  const line = d3.line().x((d,i)=>x(widths[i])).y(d=>y(d));
  p.series.forEach(s=>{
    const st = STY[s.s];
    pg.append('path').attr('d',line(s.d)).attr('fill','none')
      .attr('stroke',COL[s.k]).attr('stroke-width',st.w)
      .attr('stroke-dasharray',st.dash).attr('stroke-linecap',st.cap)
      .attr('stroke-linejoin','round');
  });
  g.append('rect').attr('x',p.l).attr('y',p.t).attr('width',p.r-p.l).attr('height',p.b-p.t)
    .attr('fill','none').attr('stroke','#c4c4c4').attr('stroke-width',1.3);
  const ya = g.append('g').attr('transform','translate('+p.l+',0)')
    .call(d3.axisLeft(y).tickValues(p.ticks).tickSize(4.5).tickFormat(''));
  ya.select('.domain').remove();
  ya.selectAll('line').attr('stroke','#222').attr('stroke-width',p.tw);
  if(p.minor){
    const mins=[];
    for(let e=Math.floor(p.lo);e<=Math.ceil(p.hi);e++){for(let m=2;m<10;m++){const v=m*Math.pow(10,e);if(Math.log10(v)>=p.lo&&Math.log10(v)<=p.hi)mins.push(v);}}
    const ym = g.append('g').attr('transform','translate('+p.l+',0)')
      .call(d3.axisLeft(y).tickValues(mins).tickSize(2.5).tickFormat(''));
    ym.select('.domain').remove();
    ym.selectAll('line').attr('stroke','#222').attr('stroke-width',0.8);
  }
  const yl = g.append('g').selectAll('text').data(p.ticks).join('text')
    .attr('x',p.l-6.5).attr('y',d=>y(d)+2.3).attr('text-anchor','end')
    .attr('font-family',FONT).attr('font-size',6.5).attr('fill','#262626');
  yl.each(function(d){
    const e = Math.round(Math.log10(d));
    const t = d3.select(this);
    t.append('tspan').text('10');
    t.append('tspan').attr('dy',-2.8).attr('font-size',4.6).text(String(e).replace('-','\u2212'));
  });
  const xa = g.append('g').attr('transform','translate(0,'+p.b+')')
    .call(d3.axisBottom(x).tickValues(xTicks).tickSize(3.5).tickFormat(''));
  xa.select('.domain').remove();
  xa.selectAll('line').attr('stroke','#222').attr('stroke-width',1);
  const tb = pi<3 ? 155.3 : 354.3;
  g.append('g').selectAll('text').data(xTicks).join('text')
    .attr('x',d=>x(d)).attr('y',tb).attr('text-anchor','middle')
    .attr('font-family',FONT).attr('font-size',6.5).attr('fill','#262626').text(d=>d);
  g.append('text').attr('x',(p.l+p.r)/2).attr('y',pi<3?163.5:362.3)
    .attr('text-anchor','middle').attr('font-family',FONT).attr('font-size',7.2)
    .attr('fill','#262626').text(xLabel);
});

function legend(y0,h,rows){
  const g = svg.append('g');
  g.append('rect').attr('x',544.5).attr('y',y0).attr('width',94).attr('height',h).attr('rx',1.5)
    .attr('fill','#fff').attr('stroke','#d9d9d9').attr('stroke-width',0.8);
  rows.forEach((r,i)=>{
    const cy = y0+6+i*10.5;
    const st = STY[r.s];
    g.append('line').attr('x1',547).attr('x2',562).attr('y1',cy).attr('y2',cy)
      .attr('stroke',r.c).attr('stroke-width',st.w).attr('stroke-dasharray',st.dash);
    const t = g.append('text').attr('x',568).attr('y',cy+2.5).attr('font-family',FONT)
      .attr('font-size',7).attr('fill','#262626');
    r.f(t);
  });
}
const plain = s => t => t.text(s);
const topRows = noiseLabels.map((n,i)=>({c:COL[i],s:'solid',f:plain(n)}))
  .concat([{c:'#000',s:'solid',f:plain(topStyleLabels[0])},{c:'#000',s:'dash',f:plain(topStyleLabels[1])}]);
legend(47.5,55,topRows);
const lamMax = t=>{t.append('tspan').attr('font-style','italic').text('\u03bb');
  t.append('tspan').attr('font-size',5).attr('dy',1.6).text('max');
  t.append('tspan').attr('dy',-1.6).text('(');
  t.append('tspan').attr('font-style','italic').text('H');
  t.append('tspan').text(')');};
const lamR = t=>{t.append('tspan').attr('font-style','italic').text('\u03bb');
  t.append('tspan').attr('font-size',5).attr('font-style','italic').attr('dy',1.6).text('r');
  t.append('tspan').attr('dy',-1.6).text('(');
  t.append('tspan').attr('font-style','italic').text('H');
  t.append('tspan').text(')');};
const botRows = noiseLabels.map((n,i)=>({c:COL[i],s:'solid',f:plain(n)}))
  .concat([{c:'#000',s:'solid',f:lamMax},{c:'#000',s:'dash',f:plain(topStyleLabels[1])},{c:'#000',s:'dot',f:lamR}]);
legend(241.5,65,botRows);

// caption (partly below the frame, as in the reference)
const cap = svg.append('text').attr('x',0).attr('y',380).attr('font-family','Liberation Serif, serif')
  .attr('font-size',15.5).attr('fill','#000');
cap.append('tspan').text('Figure 3: (Top) ');
cap.append('tspan').attr('font-weight','bold').text('Model sharpness');
cap.append('tspan').text(' (Hessian trace) is unstable and ');
cap.append('tspan').attr('font-weight','bold').text('Loss Jacobian');
cap.append('tspan').text(' is minimized at');
</script></body></html>
